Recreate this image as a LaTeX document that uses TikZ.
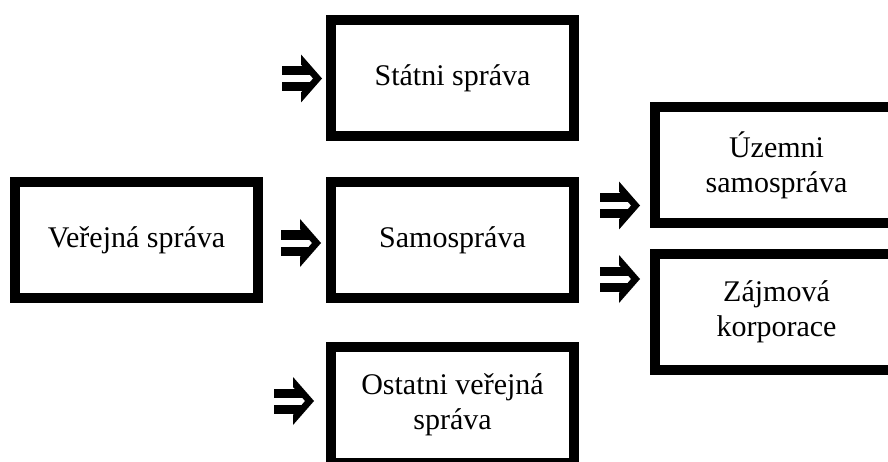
\documentclass[tikz,border=0pt]{standalone}
\usepackage{fontspec}
\setmainfont{Liberation Serif}
\usepackage{tikz}
\usetikzlibrary{positioning}
\tikzset{
	box/.style={draw, line width=10pt, minimum width=243pt, minimum height=116pt,
		inner sep=0pt, align=center, font=\fontsize{30}{35}\selectfont},
	dblarrow/.pic={
		\fill (-40,3.5) rectangle (-12,12.5);
		\fill (-40,-3.5) rectangle (-12,-12.5);
		\fill (-21,24) -- (0,0) -- (-21,-24) -- (-21,-14) -- (-9,0) -- (-21,14) -- cycle;
	}
}

\begin{document}
\begin{tikzpicture}[x=1pt,y=1pt]
		\fill[white] (0,0) rectangle (888,461);
		\useasboundingbox (0,0) rectangle (888,461);
		
		\node[box] (ver) at (136.5,221) {Veřejná správa};
		\node[box] (sam) at (452.5,221) {Samospráva};
		\node[box] (stat) at (452.5,382.5) {Státni správa};
		\node[box] (ost) at (452.5,56) {Ostatni veřejná\\správa};
		\node[box] (uzem) at (776.5,295.5) {Územni\\samospráva};
		\node[box] (zajm) at (776.5,149) {Zájmová\\korporace};
		
		\pic at ([xshift=-4pt]stat.west) {dblarrow};
		\pic at ([xshift=-5pt,yshift=-3pt]sam.west) {dblarrow};
		\pic at ([xshift=-12pt,yshift=4pt]ost.west) {dblarrow};
		\pic at ([xshift=-10pt,yshift=23pt]uzem.south west) {dblarrow};
		\pic at ([xshift=-10pt,yshift=-30pt]zajm.north west) {dblarrow};
\end{tikzpicture}
\end{document}
